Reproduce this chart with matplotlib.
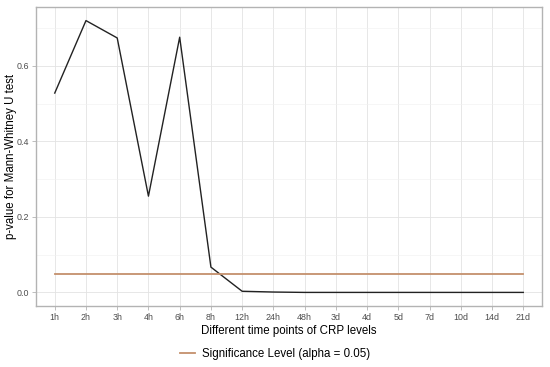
import numpy as np
import matplotlib
matplotlib.use("Agg")
import matplotlib.pyplot as plt
from matplotlib.ticker import MultipleLocator

plt.rcParams['font.family'] = ['Liberation Sans', 'DejaVu Sans']

time_points = ["1h", "2h", "3h", "4h", "6h", "8h", "12h", "24h", "48h",
               "3d", "4d", "5d", "7d", "10d", "14d", "21d"]
p_values = [0.528, 0.720, 0.674, 0.255, 0.676, 0.067, 0.003, 0.001, 0.0,
            0.0, 0.0, 0.0, 0.0, 0.0, 0.0, 0.0]
alpha = 0.05

fig = plt.figure(figsize=(5.5, 3.67), dpi=100)
ax = fig.add_axes([36 / 550, 1 - 306 / 367, 506 / 550, 299 / 367])

x = np.arange(len(time_points))
ax.plot(x, p_values, color="#222222", lw=1.0, zorder=3)
ax.plot(x, [alpha] * len(x), color="#C4906C", lw=1.3, zorder=3,
        label="Significance Level (alpha = 0.05)")

ax.set_xlim(-0.6, len(x) - 1 + 0.6)
ax.set_ylim(-0.036, 0.756)
ax.set_xticks(x)
ax.set_xticklabels(time_points)
ax.yaxis.set_major_locator(MultipleLocator(0.2))
ax.yaxis.set_minor_locator(MultipleLocator(0.1))
ax.yaxis.set_major_formatter(lambda v, p: f"{v:.1f}")

ax.grid(True, which="major", color="#E3E3E3", lw=0.6)
ax.grid(True, which="minor", axis="y", color="#F0F0F0", lw=0.4)
ax.set_axisbelow(True)
for s in ax.spines.values():
    s.set_color("#B3B3B3")
    s.set_linewidth(1.0)
ax.tick_params(axis="both", which="major", colors="#B3B3B3", length=3,
               width=0.6, labelcolor="#4D4D4D", labelsize=6.4, pad=2)
ax.tick_params(axis="y", which="minor", length=0)

ax.set_xlabel("Different time points of CRP levels", fontsize=8.3,
              color="black", labelpad=2)
fig.text(11 / 550, 1 - 156 / 367, "p-value for Mann-Whitney U test",
         rotation=90, ha="center", va="center", fontsize=8.3, color="black")

fig.legend(loc="center", bbox_to_anchor=(0.5, 1 - 354 / 367), frameon=False,
           fontsize=8.3, handlelength=1.3, handletextpad=0.6)

fig.savefig("out.png", dpi=100)
